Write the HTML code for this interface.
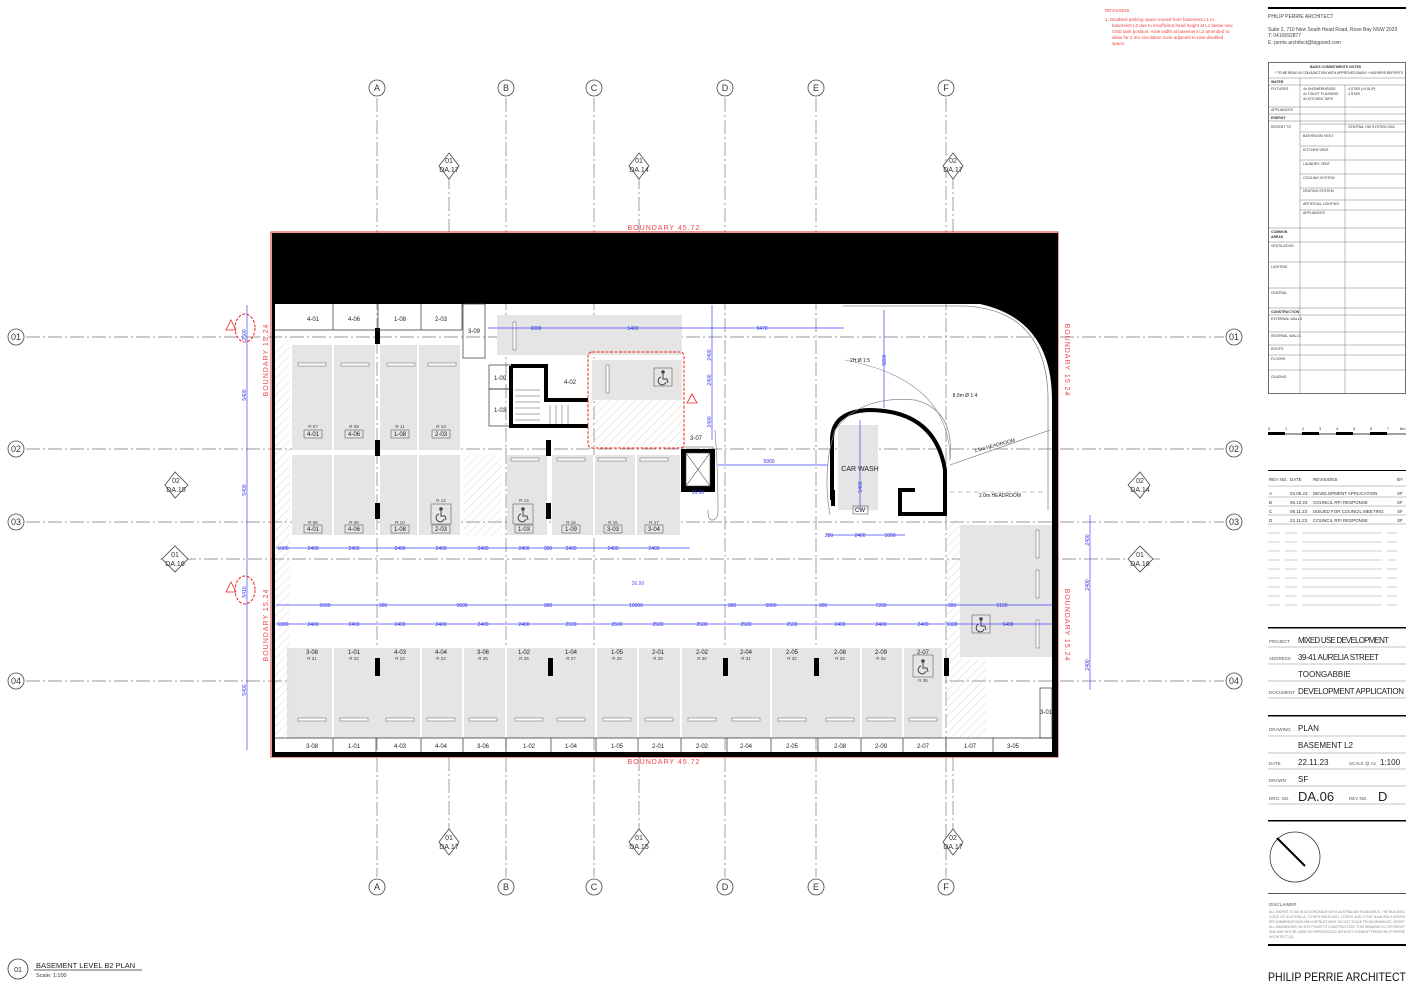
<!DOCTYPE html>
<html><head><meta charset="utf-8"><style>
html,body{margin:0;padding:0;background:#fff}
svg{display:block}
text{font-family:"Liberation Sans",sans-serif}
</style></head><body>
<svg width="1414" height="989" viewBox="0 0 1414 989" xmlns="http://www.w3.org/2000/svg">
<rect width="1414" height="989" fill="#fff"/>
<defs>
<pattern id="h" width="6" height="6" patternUnits="userSpaceOnUse" patternTransform="rotate(45)"><line x1="0" y1="0" x2="0" y2="6" stroke="#bbb" stroke-width="0.6"/></pattern>
<g id="wc" fill="none" stroke="#444" stroke-width="1">
<circle cx="0" cy="-6" r="1.3" fill="#444"/>
<path d="M0 -4 L0 1 L4 1 L5 5"/>
<path d="M-2 -1 A4 4 0 1 0 3 4"/>
</g>
</defs>

<!-- grid lines -->
<g stroke="#777" stroke-width="0.7" stroke-dasharray="14,3,2,3" fill="none">
<line x1="377" y1="98" x2="377" y2="877"/><line x1="506" y1="98" x2="506" y2="877"/>
<line x1="594" y1="98" x2="594" y2="877"/><line x1="725" y1="98" x2="725" y2="877"/>
<line x1="816" y1="98" x2="816" y2="877"/><line x1="946" y1="98" x2="946" y2="877"/>
<line x1="26" y1="337" x2="1224" y2="337"/><line x1="26" y1="449" x2="1224" y2="449"/>
<line x1="26" y1="522" x2="1224" y2="522"/><line x1="26" y1="681" x2="1224" y2="681"/>
<line x1="160" y1="559" x2="1160" y2="559"/>
<line x1="449" y1="175" x2="449" y2="232"/><line x1="639" y1="175" x2="639" y2="232"/><line x1="953" y1="175" x2="953" y2="232"/>
<line x1="449" y1="757" x2="449" y2="830"/><line x1="639" y1="757" x2="639" y2="830"/><line x1="953" y1="757" x2="953" y2="830"/>
</g>
<!-- grid bubbles -->
<g font-size="9" text-anchor="middle" fill="#333">
<g fill="#fff" stroke="#444" stroke-width="0.8">
<circle cx="377" cy="88" r="8"/><circle cx="506" cy="88" r="8"/><circle cx="594" cy="88" r="8"/><circle cx="725" cy="88" r="8"/><circle cx="816" cy="88" r="8"/><circle cx="946" cy="88" r="8"/>
<circle cx="377" cy="887" r="8"/><circle cx="506" cy="887" r="8"/><circle cx="594" cy="887" r="8"/><circle cx="725" cy="887" r="8"/><circle cx="816" cy="887" r="8"/><circle cx="946" cy="887" r="8"/>
<circle cx="16" cy="337" r="8"/><circle cx="16" cy="449" r="8"/><circle cx="16" cy="522" r="8"/><circle cx="16" cy="681" r="8"/>
<circle cx="1234" cy="337" r="8"/><circle cx="1234" cy="449" r="8"/><circle cx="1234" cy="522" r="8"/><circle cx="1234" cy="681" r="8"/>
</g>
<text x="377" y="91">A</text><text x="506" y="91">B</text><text x="594" y="91">C</text><text x="725" y="91">D</text><text x="816" y="91">E</text><text x="946" y="91">F</text>
<text x="377" y="890">A</text><text x="506" y="890">B</text><text x="594" y="890">C</text><text x="725" y="890">D</text><text x="816" y="890">E</text><text x="946" y="890">F</text>
<text x="16" y="340">01</text><text x="16" y="452">02</text><text x="16" y="525">03</text><text x="16" y="684">04</text>
<text x="1234" y="340">01</text><text x="1234" y="452">02</text><text x="1234" y="525">03</text><text x="1234" y="684">04</text>
</g>
<!-- section markers -->
<g font-size="7" text-anchor="middle" fill="#333">
<g fill="#fff" stroke="#444" stroke-width="0.8">
<path d="M439 166 L449 153 L459 166 L449 179 Z"/><path d="M629 166 L639 153 L649 166 L639 179 Z"/><path d="M943 166 L953 153 L963 166 L953 179 Z"/>
<path d="M439 842 L449 829 L459 842 L449 855 Z"/><path d="M629 842 L639 829 L649 842 L639 855 Z"/><path d="M943 842 L953 829 L963 842 L953 855 Z"/>
<path d="M165 485 L175 472 L188 485 L175 498 Z"/><path d="M1128 485 L1140 472 L1150 485 L1140 498 Z"/>
<path d="M162 559 L175 546 L188 559 L175 572 Z"/><path d="M1128 559 L1140 546 L1153 559 L1140 572 Z"/>
</g>
<text x="449" y="163">01</text><text x="449" y="172">DA.17</text><text x="639" y="163">01</text><text x="639" y="172">DA.14</text><text x="953" y="163">02</text><text x="953" y="172">DA.17</text>
<text x="449" y="840">01</text><text x="449" y="849">DA.17</text><text x="639" y="840">01</text><text x="639" y="849">DA.15</text><text x="953" y="840">02</text><text x="953" y="849">DA.17</text>
<text x="176" y="483">02</text><text x="176" y="492">DA.15</text><text x="1140" y="483">02</text><text x="1140" y="492">DA.14</text>
<text x="175" y="557">01</text><text x="175" y="566">DA.16</text><text x="1140" y="557">01</text><text x="1140" y="566">DA.16</text>
</g>

<!-- boundary -->
<rect x="271" y="232" width="787" height="525" fill="none" stroke="#d33" stroke-width="1"/>
<g font-size="7" fill="#e44" text-anchor="middle" letter-spacing="1">
<text x="664" y="230">BOUNDARY 45.72</text><text x="664" y="764">BOUNDARY 45.72</text>
<text transform="translate(268,360) rotate(-90)">BOUNDARY 15.24</text>
<text transform="translate(268,625) rotate(-90)">BOUNDARY 15.24</text>
<text transform="translate(1065,360) rotate(90)">BOUNDARY 15.24</text>
<text transform="translate(1065,625) rotate(90)">BOUNDARY 15.24</text>
</g>
<!-- walls -->
<rect x="272" y="233" width="786" height="71" fill="#000"/>
<path d="M940 304 L1058 304 L1058 757 L1052 757 L1052 400 Q1052 320 980 304 Z" fill="#000"/>
<path d="M843 306 L965 306 Q1045 310 1048 395 L1048 510" fill="none" stroke="#888" stroke-width="0.8"/>
<rect x="272" y="304" width="3" height="452" fill="#000"/>
<rect x="272" y="752" width="786" height="5" fill="#000"/>

<!-- gray stalls -->
<g fill="#e5e5e5">
<rect x="292" y="345" width="83" height="105"/><rect x="380" y="345" width="80" height="105"/>
<rect x="292" y="455" width="83" height="80"/><rect x="380" y="455" width="80" height="80"/>
<rect x="507" y="455" width="40" height="80"/><rect x="552" y="455" width="128" height="80"/>
<rect x="497" y="315" width="185" height="40"/><rect x="592" y="360" width="90" height="40"/>
<rect x="287" y="648" width="655" height="90"/>
<rect x="960" y="525" width="92" height="132"/>
<rect x="838" y="425" width="40" height="85"/>
</g>
<g stroke="#fff" stroke-width="2">
<line x1="333" y1="345" x2="333" y2="535"/><line x1="418" y1="345" x2="418" y2="535"/>
<line x1="594" y1="455" x2="594" y2="535"/><line x1="636" y1="455" x2="636" y2="535"/>
<line x1="333" y1="648" x2="333" y2="738"/><line x1="421" y1="648" x2="421" y2="738"/><line x1="463" y1="648" x2="463" y2="738"/>
<line x1="506" y1="648" x2="506" y2="738"/><line x1="596" y1="648" x2="596" y2="738"/><line x1="638" y1="648" x2="638" y2="738"/>
<line x1="681" y1="648" x2="681" y2="738"/><line x1="771" y1="648" x2="771" y2="738"/><line x1="861" y1="648" x2="861" y2="738"/><line x1="903" y1="648" x2="903" y2="738"/>
</g>
<!-- hatch areas -->
<g fill="url(#h)">
<rect x="275" y="340" width="15" height="400"/><rect x="464" y="455" width="38" height="80"/>
<rect x="590" y="400" width="92" height="45"/><rect x="946" y="660" width="40" height="78"/><rect x="946" y="520" width="14" height="140"/>
</g>
<!-- wheel stops -->
<g fill="#fff" stroke="#777" stroke-width="0.6">
<rect x="298" y="363" width="28" height="3"/><rect x="341" y="363" width="28" height="3"/><rect x="387" y="363" width="28" height="3"/><rect x="428" y="363" width="28" height="3"/>
<rect x="511" y="458" width="28" height="3"/><rect x="557" y="458" width="28" height="3"/><rect x="598" y="458" width="28" height="3"/><rect x="640" y="458" width="28" height="3"/>
<rect x="298" y="718" width="28" height="3"/><rect x="340" y="718" width="28" height="3"/><rect x="386" y="718" width="28" height="3"/><rect x="427" y="718" width="28" height="3"/>
<rect x="469" y="718" width="28" height="3"/><rect x="515" y="718" width="28" height="3"/><rect x="557" y="718" width="28" height="3"/><rect x="603" y="718" width="28" height="3"/>
<rect x="645" y="718" width="28" height="3"/><rect x="688" y="718" width="28" height="3"/><rect x="732" y="718" width="28" height="3"/><rect x="778" y="718" width="28" height="3"/>
<rect x="826" y="718" width="28" height="3"/><rect x="867" y="718" width="28" height="3"/><rect x="909" y="718" width="28" height="3"/>
<rect x="513" y="322" width="3" height="28"/><rect x="606" y="365" width="3" height="28"/><rect x="1036" y="530" width="3" height="28"/><rect x="1036" y="570" width="3" height="28"/><rect x="1036" y="620" width="3" height="28"/>
</g>
<!-- columns -->
<g fill="#000">
<rect x="375" y="328" width="5" height="16"/><rect x="375" y="440" width="5" height="16"/><rect x="375" y="503" width="5" height="16"/>
<rect x="546" y="440" width="5" height="16"/><rect x="546" y="503" width="5" height="16"/>
<rect x="375" y="658" width="5" height="18"/><rect x="548" y="658" width="5" height="18"/><rect x="723" y="658" width="5" height="18"/><rect x="814" y="658" width="5" height="18"/><rect x="944" y="658" width="5" height="18"/>
<rect x="831" y="490" width="4" height="16"/>
</g>
<!-- store labels -->
<g fill="none" stroke="#333" stroke-width="0.7">
<line x1="275" y1="330" x2="462" y2="330"/><line x1="333" y1="304" x2="333" y2="330"/><line x1="378" y1="304" x2="378" y2="330"/><line x1="421" y1="304" x2="421" y2="330"/><line x1="462" y1="304" x2="462" y2="330"/>
<rect x="463" y="304" width="22" height="54"/>
<rect x="489" y="365" width="22" height="24"/><rect x="489" y="389" width="22" height="37"/>
<line x1="275" y1="738" x2="1052" y2="738"/>
<line x1="333" y1="738" x2="333" y2="752"/><line x1="376" y1="738" x2="376" y2="752"/><line x1="421" y1="738" x2="421" y2="752"/><line x1="463" y1="738" x2="463" y2="752"/>
<line x1="506" y1="738" x2="506" y2="752"/><line x1="551" y1="738" x2="551" y2="752"/><line x1="596" y1="738" x2="596" y2="752"/><line x1="638" y1="738" x2="638" y2="752"/>
<line x1="681" y1="738" x2="681" y2="752"/><line x1="727" y1="738" x2="727" y2="752"/><line x1="771" y1="738" x2="771" y2="752"/><line x1="818" y1="738" x2="818" y2="752"/>
<line x1="861" y1="738" x2="861" y2="752"/><line x1="903" y1="738" x2="903" y2="752"/><line x1="946" y1="738" x2="946" y2="752"/><line x1="993" y1="738" x2="993" y2="752"/>
<rect x="1040" y="688" width="12" height="50"/>
</g>
<g font-size="6" text-anchor="middle" fill="#222">
<text x="313" y="321">4-01</text><text x="354" y="321">4-06</text><text x="400" y="321">1-08</text><text x="441" y="321">2-03</text><text x="474" y="333">3-09</text>
<text x="500" y="380">1-09</text><text x="500" y="412">1-03</text><text x="570" y="384">4-02</text><text x="696" y="440">3-07</text>
<text x="312" y="748">3-08</text><text x="354" y="748">1-01</text><text x="400" y="748">4-03</text><text x="441" y="748">4-04</text><text x="483" y="748">3-06</text>
<text x="529" y="748">1-02</text><text x="571" y="748">1-04</text><text x="617" y="748">1-05</text><text x="658" y="748">2-01</text><text x="702" y="748">2-02</text>
<text x="746" y="748">2-04</text><text x="792" y="748">2-05</text><text x="840" y="748">2-08</text><text x="881" y="748">2-09</text><text x="923" y="748">2-07</text>
<text x="970" y="748">1-07</text><text x="1013" y="748">3-05</text><text x="1046" y="714">3-01</text>
<text x="313" y="436">4-01</text><text x="354" y="436">4-06</text><text x="400" y="436">1-08</text><text x="441" y="436">2-03</text>
<text x="313" y="531">4-01</text><text x="354" y="531">4-06</text><text x="400" y="531">1-08</text><text x="441" y="531">2-03</text>
<text x="524" y="531">1-03</text><text x="571" y="531">1-09</text><text x="613" y="531">3-03</text><text x="654" y="531">3-04</text>
<text x="312" y="654">3-08</text><text x="354" y="654">1-01</text><text x="400" y="654">4-03</text><text x="441" y="654">4-04</text><text x="483" y="654">3-06</text>
<text x="524" y="654">1-02</text><text x="571" y="654">1-04</text><text x="617" y="654">1-05</text><text x="658" y="654">2-01</text><text x="702" y="654">2-02</text>
<text x="746" y="654">2-04</text><text x="792" y="654">2-05</text><text x="840" y="654">2-08</text><text x="881" y="654">2-09</text><text x="923" y="654">2-07</text>
<text x="860" y="471" font-size="7">CAR WASH</text><text x="860" y="512">CW</text>
<text x="1000" y="497" font-size="5">2.0m HEADROOM</text><text x="995" y="447" font-size="5" transform="rotate(-15 995 447)">1.5m HEADROOM</text>
<text x="860" y="362" font-size="5">2H:Ø 1:5</text><text x="965" y="397" font-size="5">8.0m Ø 1:4</text>
</g>
<g font-size="4.5" text-anchor="middle" fill="#444">
<text x="313" y="428">R 07</text><text x="354" y="428">R 09</text><text x="400" y="428">R 11</text><text x="441" y="428">R 13</text>
<text x="313" y="524">R 06</text><text x="354" y="524">R 08</text><text x="400" y="524">R 10</text><text x="441" y="502">R 12</text><text x="524" y="502">R 14</text><text x="571" y="524">R 15</text><text x="613" y="524">R 16</text><text x="654" y="524">R 17</text>
<text x="312" y="660">R 21</text><text x="354" y="660">R 22</text><text x="400" y="660">R 23</text><text x="441" y="660">R 24</text><text x="483" y="660">R 25</text><text x="524" y="660">R 26</text><text x="571" y="660">R 27</text><text x="617" y="660">R 28</text><text x="658" y="660">R 29</text><text x="702" y="660">R 30</text><text x="746" y="660">R 31</text><text x="792" y="660">R 32</text><text x="840" y="660">R 33</text><text x="881" y="660">R 34</text><text x="923" y="682">R 35</text>
</g>
<g fill="none" stroke="#444" stroke-width="0.5">
<rect x="304" y="430" width="18" height="8"/><rect x="345" y="430" width="18" height="8"/><rect x="391" y="430" width="18" height="8"/><rect x="432" y="430" width="18" height="8"/>
<rect x="304" y="525" width="18" height="8"/><rect x="345" y="525" width="18" height="8"/><rect x="391" y="525" width="18" height="8"/><rect x="432" y="525" width="18" height="8"/>
<rect x="515" y="525" width="18" height="8"/><rect x="562" y="525" width="18" height="8"/><rect x="604" y="525" width="18" height="8"/><rect x="645" y="525" width="18" height="8"/>
<rect x="853" y="506" width="15" height="8"/>
<rect x="431" y="504" width="20" height="20"/><rect x="513" y="504" width="20" height="20"/><rect x="913" y="655" width="20" height="22"/><rect x="654" y="368" width="18" height="18"/><rect x="972" y="615" width="18" height="18"/>
<rect x="683" y="447" width="30" height="42"/>
</g>
<use href="#wc" x="441" y="515"/><use href="#wc" x="523" y="515"/><use href="#wc" x="923" y="667"/><use href="#wc" x="663" y="378"/><use href="#wc" x="981" y="625"/>
<!-- stair core -->
<path d="M511 366 L546 366 L546 400 L588 400" fill="none" stroke="#000" stroke-width="4"/>
<path d="M511 366 L511 426 L588 426" fill="none" stroke="#000" stroke-width="4"/>
<g stroke="#555" stroke-width="0.5"><line x1="515" y1="390" x2="540" y2="390"/><line x1="515" y1="396" x2="540" y2="396"/><line x1="515" y1="402" x2="540" y2="402"/><line x1="515" y1="408" x2="540" y2="408"/><line x1="515" y1="414" x2="540" y2="414"/><line x1="515" y1="420" x2="540" y2="420"/><line x1="550" y1="405" x2="550" y2="424"/><line x1="556" y1="405" x2="556" y2="424"/><line x1="562" y1="405" x2="562" y2="424"/><line x1="568" y1="405" x2="568" y2="424"/></g>
<!-- lift -->
<rect x="681" y="449" width="34" height="43" fill="#000"/><rect x="686" y="453" width="24" height="33" fill="#fff" stroke="#444" stroke-width="0.6"/>
<path d="M686 453 L710 486 M710 453 L686 486" stroke="#444" stroke-width="0.6"/>
<path d="M715 430 Q718 470 718 510 Q718 520 712 520 Q708 520 708 510" fill="none" stroke="#888" stroke-width="0.7"/>
<!-- car wash core -->
<path d="M832 500 L832 440 Q832 412 868 410 Q935 410 945 470 L945 514 L900 514 L900 490 L915 490" fill="none" stroke="#000" stroke-width="4"/>
<path d="M830 515 Q822 470 835 430 Q860 395 915 400 Q955 410 950 460" fill="none" stroke="#888" stroke-width="0.7"/>
<line x1="950" y1="465" x2="1050" y2="430" stroke="#666" stroke-width="0.6"/>
<path d="M845 360 Q950 380 950 460" fill="none" stroke="#888" stroke-width="0.6"/>
<line x1="950" y1="492" x2="1045" y2="492" stroke="#888" stroke-width="0.6" stroke-dasharray="5,3"/>
<!-- red revision clouds -->
<rect x="588" y="352" width="96" height="96" rx="4" fill="none" stroke="#e22" stroke-width="1" stroke-dasharray="3,1.5"/>
<ellipse cx="245" cy="328" rx="10" ry="14" fill="none" stroke="#e22" stroke-width="1" stroke-dasharray="3,1.5"/>
<ellipse cx="245" cy="590" rx="10" ry="14" fill="none" stroke="#e22" stroke-width="1" stroke-dasharray="3,1.5"/>
<g fill="none" stroke="#e22" stroke-width="0.8"><path d="M231 320 L236 330 L226 330 Z"/><path d="M231 582 L236 592 L226 592 Z"/><path d="M692 394 L697 403 L687 403 Z"/></g>
<!-- blue dimensions -->
<g stroke="#44f" stroke-width="0.7" fill="none">
<line x1="247" y1="305" x2="247" y2="750"/>
<line x1="276" y1="548" x2="690" y2="548"/>
<line x1="276" y1="605" x2="1052" y2="605"/>
<line x1="276" y1="624" x2="1052" y2="624"/>
<line x1="488" y1="328" x2="844" y2="328"/>
<line x1="712" y1="305" x2="712" y2="440"/>
<line x1="718" y1="465" x2="828" y2="465"/>
<line x1="884" y1="310" x2="884" y2="408"/>
<line x1="860" y1="420" x2="860" y2="510"/>
<line x1="826" y1="535" x2="905" y2="535"/>
<line x1="1090" y1="515" x2="1090" y2="690"/>
</g>
<g font-size="5" fill="#33d" text-anchor="middle">
<text x="283" y="550">1000</text><text x="313" y="550">2400</text><text x="354" y="550">2400</text><text x="400" y="550">2400</text><text x="441" y="550">2400</text><text x="483" y="550">2400</text><text x="524" y="550">2400</text><text x="548" y="550">300</text><text x="571" y="550">2400</text><text x="613" y="550">2400</text><text x="654" y="550">2400</text>
<text x="325" y="607">5600</text><text x="383" y="607">300</text><text x="462" y="607">5600</text><text x="548" y="607">300</text><text x="636" y="607">10000</text><text x="732" y="607">300</text><text x="771" y="607">5000</text><text x="823" y="607">300</text><text x="881" y="607">7200</text><text x="952" y="607">300</text><text x="1002" y="607">6120</text>
<text x="283" y="626">1000</text><text x="313" y="626">2400</text><text x="354" y="626">2400</text><text x="400" y="626">2400</text><text x="441" y="626">2400</text><text x="483" y="626">2400</text><text x="524" y="626">2400</text><text x="571" y="626">2500</text><text x="617" y="626">2500</text><text x="658" y="626">2500</text><text x="702" y="626">2500</text><text x="746" y="626">2500</text><text x="792" y="626">2500</text><text x="840" y="626">2400</text><text x="881" y="626">2400</text><text x="923" y="626">2400</text><text x="952" y="626">1000</text><text x="1008" y="626">5400</text>
<text x="536" y="330">6000</text><text x="633" y="330">5400</text><text x="762" y="330">9470</text>
<text x="769" y="463">5900</text><text x="638" y="585" fill="#55f">26.90</text><text x="698" y="494">26.90</text>
<text x="829" y="537">250</text><text x="860" y="537">2400</text><text x="890" y="537">1000</text>
<text transform="translate(246,395) rotate(-90)">5400</text><text transform="translate(246,490) rotate(-90)">5400</text><text transform="translate(246,592) rotate(-90)">5410</text><text transform="translate(246,690) rotate(-90)">5400</text><text transform="translate(246,335) rotate(-90)">2500</text>
<text transform="translate(711,355) rotate(-90)">2400</text><text transform="translate(711,380) rotate(-90)">2400</text><text transform="translate(711,422) rotate(-90)">2400</text>
<text transform="translate(886,360) rotate(-90)">5800</text><text transform="translate(862,487) rotate(-90)">5400</text>
<text transform="translate(1089,540) rotate(-90)">2400</text><text transform="translate(1089,585) rotate(-90)">2400</text><text transform="translate(1089,665) rotate(-90)">2400</text>
</g>

<!-- revisions note top -->
<g font-size="4.5" fill="#e44">
<text x="1105" y="12">REVISIONS</text>
<text x="1105" y="21">1.   Disabled parking space moved from basement L1 to</text>
<text x="1112" y="27">basement L2 due to insufficient head height at L1 below new</text>
<text x="1112" y="33">OSD tank position. Aisle width at basement L2 amended to</text>
<text x="1112" y="39">allow for 2.4m circulation zone adjacent to new disabled</text>
<text x="1112" y="45">space.</text>
</g>

<!-- right title block -->
<rect x="1268" y="7" width="138" height="2" fill="#000"/>
<g font-size="5" fill="#444">
<text x="1268" y="18">PHILIP PERRIE ARCHITECT</text>
<text x="1268" y="31">Suite 2, 710 New South Head Road, Rose Bay NSW 2029</text>
<text x="1268" y="37">T: 0410692877</text><text x="1268" y="44">E: perrie.architect@bigpond.com</text>
</g>
<rect x="1268.5" y="62.5" width="137" height="331" fill="none" stroke="#333" stroke-width="0.7"/>
<g stroke="#555" stroke-width="0.4">
<line x1="1268" y1="78" x2="1406" y2="78"/><line x1="1268" y1="85" x2="1406" y2="85"/><line x1="1268" y1="107" x2="1406" y2="107"/><line x1="1268" y1="114" x2="1406" y2="114"/><line x1="1268" y1="121" x2="1406" y2="121"/>
<line x1="1300" y1="124" x2="1406" y2="124"/><line x1="1300" y1="132" x2="1406" y2="132"/><line x1="1300" y1="146" x2="1406" y2="146"/><line x1="1300" y1="160" x2="1406" y2="160"/><line x1="1300" y1="174" x2="1406" y2="174"/><line x1="1300" y1="188" x2="1406" y2="188"/><line x1="1300" y1="200" x2="1406" y2="200"/><line x1="1300" y1="210" x2="1406" y2="210"/>
<line x1="1268" y1="228" x2="1406" y2="228"/><line x1="1268" y1="242" x2="1406" y2="242"/><line x1="1268" y1="262" x2="1406" y2="262"/><line x1="1268" y1="288" x2="1406" y2="288"/><line x1="1268" y1="308" x2="1406" y2="308"/><line x1="1268" y1="315" x2="1406" y2="315"/><line x1="1268" y1="332" x2="1406" y2="332"/><line x1="1268" y1="345" x2="1406" y2="345"/><line x1="1268" y1="355" x2="1406" y2="355"/><line x1="1268" y1="370" x2="1406" y2="370"/>
<line x1="1300" y1="78" x2="1300" y2="393"/><line x1="1345" y1="85" x2="1345" y2="393"/>
</g>
<g font-size="3.5" fill="#333">
<text x="1310" y="68" font-weight="bold">BASIX COMMITMENTS NOTES</text><text x="1275" y="74" textLength="128">* TO BE READ IN CONJUNCTION WITH APPROVED BASIX + NATHERS REPORTS</text>
<text x="1271" y="83" font-weight="bold">WATER</text><text x="1271" y="119" font-weight="bold">ENERGY</text><text x="1271" y="233" font-weight="bold">COMMON</text><text x="1271" y="238" font-weight="bold">AREAS</text><text x="1271" y="313" font-weight="bold">CONSTRUCTION</text>
<text x="1271" y="90">FIXTURES</text><text x="1271" y="111">APPLIANCES</text><text x="1271" y="128">RECENT TO</text><text x="1271" y="247">VENTILATION</text><text x="1271" y="268">LIGHTING</text><text x="1271" y="294">CENTRAL</text><text x="1271" y="320">EXTERNAL WALLS</text><text x="1271" y="337">INTERNAL WALLS</text><text x="1271" y="350">ROOFS</text><text x="1271" y="360">FLOORS</text><text x="1271" y="378">GLAZING</text>
<text x="1303" y="90">4x SHOWERHEADS</text><text x="1303" y="95">4x TOILET FLUSHING</text><text x="1303" y="100">4x KITCHEN TAPS</text><text x="1348" y="90">4 STAR (&gt;4.5L/P)</text><text x="1348" y="95">4 STAR</text><text x="1348" y="128">CENTRAL HW SYSTEM GAS</text><text x="1303" y="137">BATHROOM VENT.</text><text x="1303" y="151">KITCHEN VENT.</text><text x="1303" y="165">LAUNDRY VENT.</text><text x="1303" y="179">COOLING SYSTEM</text><text x="1303" y="192">HEATING SYSTEM</text><text x="1303" y="205">ARTIFICIAL LIGHTING</text><text x="1303" y="214">APPLIANCES</text>
</g>
<!-- scale bar -->
<g stroke="#000" stroke-width="0.7"><line x1="1268" y1="434" x2="1406" y2="434"/></g>
<g fill="#000"><rect x="1268" y="432" width="17" height="3"/><rect x="1302" y="432" width="17" height="3"/><rect x="1336" y="432" width="17" height="3"/><rect x="1370" y="432" width="17" height="3"/></g>
<g font-size="4" fill="#333"><text x="1268" y="430">0</text><text x="1285" y="430">1</text><text x="1302" y="430">2</text><text x="1319" y="430">3</text><text x="1336" y="430">4</text><text x="1353" y="430">5</text><text x="1370" y="430">6</text><text x="1387" y="430">7</text><text x="1400" y="430">8m</text></g>
<!-- revision table -->
<rect x="1268" y="470" width="138" height="1" fill="#000"/>
<g font-size="4.5" fill="#333">
<text x="1269" y="481">REV NO.</text><text x="1290" y="481">DATE</text><text x="1313" y="481">REVISIONS</text><text x="1397" y="481">BY</text>
<text x="1269" y="495">A</text><text x="1290" y="495">04.05.23</text><text x="1313" y="495">DEVELOPMENT APPLICATION</text><text x="1397" y="495">SF</text>
<text x="1269" y="504">B</text><text x="1290" y="504">06.10.23</text><text x="1313" y="504">COUNCIL RFI RESPONSE</text><text x="1397" y="504">SF</text>
<text x="1269" y="513">C</text><text x="1290" y="513">09.11.23</text><text x="1313" y="513">ISSUED FOR COUNCIL MEETING</text><text x="1397" y="513">SF</text>
<text x="1269" y="522">D</text><text x="1290" y="522">22.11.23</text><text x="1313" y="522">COUNCIL RFI RESPONSE</text><text x="1397" y="522">SF</text>
</g>
<g stroke="#888" stroke-width="0.5">
<line x1="1268" y1="486" x2="1406" y2="486"/><line x1="1268" y1="497" x2="1406" y2="497"/><line x1="1268" y1="506" x2="1406" y2="506"/><line x1="1268" y1="515" x2="1406" y2="515"/><line x1="1268" y1="524" x2="1406" y2="524"/>
</g>
<g stroke="#999" stroke-width="0.5" stroke-dasharray="12,5,12,5,80,5,10">
<line x1="1268" y1="533" x2="1406" y2="533"/><line x1="1268" y1="542" x2="1406" y2="542"/><line x1="1268" y1="551" x2="1406" y2="551"/><line x1="1268" y1="560" x2="1406" y2="560"/><line x1="1268" y1="569" x2="1406" y2="569"/><line x1="1268" y1="578" x2="1406" y2="578"/><line x1="1268" y1="587" x2="1406" y2="587"/><line x1="1268" y1="596" x2="1406" y2="596"/><line x1="1268" y1="605" x2="1406" y2="605"/>
</g>
<rect x="1268" y="627" width="138" height="1.5" fill="#000"/>
<rect x="1268" y="715" width="138" height="1.5" fill="#000"/>
<g stroke="#888" stroke-width="0.5">
<line x1="1268" y1="647" x2="1406" y2="647"/><line x1="1268" y1="664" x2="1406" y2="664"/><line x1="1268" y1="681" x2="1406" y2="681"/><line x1="1268" y1="698" x2="1406" y2="698"/>
<line x1="1268" y1="736" x2="1406" y2="736"/><line x1="1268" y1="753" x2="1406" y2="753"/><line x1="1268" y1="769" x2="1406" y2="769"/><line x1="1268" y1="786" x2="1406" y2="786"/><line x1="1268" y1="804" x2="1406" y2="804"/>
</g>
<g font-size="4.5" fill="#555">
<text x="1269" y="643">PROJECT</text><text x="1269" y="660">ADDRESS</text><text x="1269" y="694">DOCUMENT</text><text x="1269" y="731">DRAWING</text><text x="1269" y="765">DATE</text><text x="1349" y="765">SCALE @ A1</text><text x="1269" y="782">DRAWN</text><text x="1269" y="800">DRG. NO.</text><text x="1349" y="800">REV NO.</text>
</g>
<g font-size="8" fill="#222">
<text x="1298" y="643" textLength="91">MIXED USE DEVELOPMENT</text><text x="1298" y="660" textLength="81">39-41 AURELIA STREET</text><text x="1298" y="677">TOONGABBIE</text><text x="1298" y="694" textLength="106">DEVELOPMENT APPLICATION</text>
<text x="1298" y="731">PLAN</text><text x="1298" y="748">BASEMENT L2</text><text x="1298" y="765">22.11.23</text><text x="1380" y="765">1:100</text><text x="1298" y="782">SF</text>
<text x="1298" y="801" font-size="13">DA.06</text><text x="1378" y="801" font-size="13">D</text>
</g>
<rect x="1268" y="820" width="138" height="1.5" fill="#000"/>
<circle cx="1295" cy="857" r="25" fill="none" stroke="#333" stroke-width="0.8"/>
<line x1="1277" y1="838" x2="1305" y2="866" stroke="#000" stroke-width="2"/>
<rect x="1268" y="893" width="138" height="1" fill="#555"/>
<g font-size="4.5" fill="#555"><text x="1269" y="906">DISCLAIMER</text></g>
<g font-size="3.3" fill="#888">
<text x="1269" y="913" textLength="136">ALL WORKS TO BE IN ACCORDANCE WITH AUSTRALIAN STANDARDS, THE BUILDING</text>
<text x="1269" y="918" textLength="136">CODE OF AUSTRALIA, OTHER RELEVANT CODES AND OTHE MANUFACTURERS</text>
<text x="1269" y="923" textLength="136">RECOMMENDATIONS AND INSTRUCTIONS. DO NOT SCALE FROM DRAWINGS. VERIFY</text>
<text x="1269" y="928" textLength="136">ALL DIMENSIONS ON SITE PRIOR TO CONSTRUCTION. THIS DRAWING IS COPYRIGHT</text>
<text x="1269" y="933" textLength="136">AND MAY NOT BE USED OR REPRODUCED WITHOUT CONSENT FROM PHILIP PERRIE</text>
<text x="1269" y="938">ARCHITECT (C).</text>
</g>
<rect x="1268" y="944" width="138" height="2" fill="#000"/>
<text x="1268" y="981" font-size="12" fill="#111" textLength="138" lengthAdjust="spacingAndGlyphs">PHILIP PERRIE ARCHITECT</text>

<!-- bottom-left title -->
<circle cx="18" cy="969" r="10" fill="#fff" stroke="#333" stroke-width="0.8"/>
<text x="18" y="972" font-size="7" text-anchor="middle" fill="#222">01</text>
<text x="36" y="968" font-size="7.5" fill="#222">BASEMENT LEVEL B2 PLAN</text>
<line x1="34" y1="970" x2="142" y2="970" stroke="#333" stroke-width="0.7"/>
<text x="36" y="977" font-size="5.5" fill="#333">Scale: 1:100</text>
</svg>
</body></html>
